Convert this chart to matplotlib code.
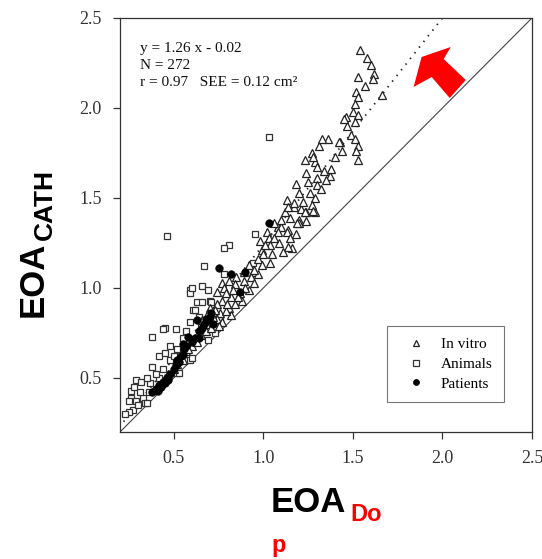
#!/usr/bin/env python3
"""Catheter vs Doppler effective orifice area, three data sources."""
import matplotlib
matplotlib.use("Agg")
import matplotlib.pyplot as plt
from matplotlib.patches import Polygon

W, H = 542, 559

# in vitro (triangles)
vitro_x = [1.54, 1.58, 1.60, 1.62, 1.61, 1.53, 1.57, 1.52, 1.53, 1.66, 1.51, 1.46, 1.50, 1.53, 1.51,
           1.47, 1.49, 1.51, 1.43, 1.45, 1.53, 1.53, 1.52,
           1.36, 1.31, 1.33, 1.42, 1.44, 1.40, 1.27, 1.23, 1.29, 1.30, 1.24, 1.34, 1.37, 1.38, 1.30,
           1.18, 1.25, 1.30, 1.20, 1.26, 1.29, 1.13, 1.17, 1.21, 1.24, 1.29, 1.12, 1.15, 1.20, 1.08,
           1.22, 1.27, 1.32, 1.35, 1.28,
           1.06, 1.10, 1.02, 1.08, 1.03, 1.14, 0.98, 1.04, 1.09, 1.16, 0.99, 1.05, 1.00, 0.97, 1.04,
           0.92, 0.99, 0.89, 0.94, 0.97, 0.93, 0.85, 0.89, 0.81, 0.95, 0.77, 0.84, 0.92, 0.78, 0.74,
           0.87, 0.82, 0.77, 0.88, 0.74, 0.81, 0.70, 0.84, 0.76, 0.82, 0.74, 0.77, 0.70, 0.66,
           1.28, 1.23, 1.24, 1.20, 1.14, 1.17, 1.14, 1.13, 1.19, 1.15, 1.11, 1.18,
           0.72, 0.68, 0.73, 0.79, 0.65, 0.62, 0.60, 0.57, 0.55, 0.52, 0.50, 0.47, 0.45, 0.42, 0.63,
           0.58, 0.68, 0.71, 0.75, 0.66, 0.69, 0.80, 0.86, 0.90, 0.95, 1.01, 1.06, 1.10, 0.79, 0.83]
vitro_y = [2.32, 2.28, 2.24, 2.19, 2.16, 2.17, 2.12, 2.09, 2.06, 2.07, 2.02, 1.95, 1.98, 1.96, 1.92,
           1.90, 1.85, 1.83, 1.81, 1.94, 1.79, 1.71, 1.76,
           1.83, 1.79, 1.83, 1.81, 1.76, 1.73, 1.75, 1.71, 1.70, 1.67, 1.64, 1.65, 1.62, 1.66, 1.61,
           1.58, 1.59, 1.57, 1.53, 1.53, 1.50, 1.49, 1.45, 1.44, 1.42, 1.42, 1.42, 1.39, 1.38, 1.34,
           1.48, 1.46, 1.55, 1.60, 1.73,
           1.36, 1.34, 1.31, 1.31, 1.28, 1.32, 1.26, 1.24, 1.25, 1.22, 1.21, 1.19, 1.19, 1.16, 1.14,
           1.13, 1.13, 1.09, 1.09, 1.08, 1.06, 1.06, 1.04, 1.04, 1.03, 1.03, 1.02, 0.99, 1.00, 0.98,
           0.97, 0.95, 0.93, 0.93, 0.91, 0.89, 0.89, 0.91, 0.86, 0.85, 0.83, 0.81, 0.81, 0.78,
           1.43, 1.42, 1.37, 1.36, 1.45, 1.47, 1.23, 1.31, 1.36, 1.28, 1.20, 1.30,
           0.84, 0.80, 0.88, 0.87, 0.74, 0.72, 0.68, 0.65, 0.60, 0.58, 0.55, 0.52, 0.50, 0.46, 0.70,
           0.66, 0.76, 0.78, 0.79, 0.82, 0.86, 0.91, 0.95, 1.00, 1.10, 1.24, 1.28, 1.38, 0.97, 0.99]

# animals (open squares)
animal_x = [0.46, 1.03, 0.955, 0.81, 0.78, 0.67, 0.66, 0.59, 0.59, 0.69, 0.63, 0.66, 0.70, 0.61, 0.45,
            0.44, 0.51, 0.38, 0.59, 0.48, 0.42, 0.45, 0.38, 0.59, 0.52, 0.29, 0.32, 0.26, 0.26, 0.29,
            0.25, 0.33, 0.34, 0.27, 0.25, 0.35, 0.53, 0.42, 0.37, 0.35, 0.60, 0.69, 0.94, 0.78, 0.60,
            0.62, 0.71, 0.55, 0.57, 0.64, 0.72, 0.52, 0.48, 0.40, 0.31, 0.28, 0.36, 0.44, 0.50, 0.65,
            0.73, 0.76, 0.30, 0.23]
animal_y = [1.29, 1.84, 1.30, 1.24, 1.22, 1.12, 1.01, 0.99, 0.97, 0.99, 0.92, 0.92, 0.93, 0.88, 0.78,
            0.77, 0.77, 0.73, 0.81, 0.68, 0.62, 0.64, 0.56, 0.60, 0.53, 0.49, 0.48, 0.43, 0.39, 0.37,
            0.37, 0.39, 0.36, 0.32, 0.31, 0.36, 0.53, 0.50, 0.47, 0.50, 0.61, 0.71, 1.14, 1.08, 1.00,
            0.88, 0.92, 0.72, 0.76, 0.84, 0.86, 0.66, 0.60, 0.52, 0.42, 0.45, 0.42, 0.55, 0.62, 0.79,
            0.75, 0.82, 0.35, 0.30]

# patients (filled circles)
patient_x = [0.38, 0.40, 0.41, 0.42, 0.43, 0.44, 0.45, 0.46, 0.47, 0.48, 0.50, 0.51, 0.52, 0.53, 0.54,
             0.55, 0.56, 0.57, 0.58, 0.60, 0.62, 0.64, 0.64, 0.66, 0.67, 0.68, 0.69, 0.70, 0.71, 0.72,
             0.75, 0.82, 0.87, 0.90, 1.03, 0.63, 0.55]
patient_y = [0.42, 0.44, 0.43, 0.46, 0.45, 0.48, 0.47, 0.50, 0.49, 0.52, 0.55, 0.57, 0.60, 0.59, 0.62,
             0.63, 0.66, 0.68, 0.73, 0.70, 0.72, 0.72, 0.76, 0.78, 0.80, 0.83, 0.82, 0.84, 0.86, 0.80,
             1.11, 1.08, 0.98, 1.09, 1.36, 0.82, 0.69]

# regression fit y = 1.26 x - 0.02
slope, intercept = 1.26, -0.02
fit_x = [0.22, (2.5 - intercept) / slope]
ticks = [0.5, 1.0, 1.5, 2.0, 2.5]
lims = (0.2, 2.5)

SERIF = "Liberation Serif"
SANS = "Liberation Sans"
TICK = "#333333"

fig = plt.figure(figsize=(W / 100, H / 100), dpi=100)
ax = fig.add_axes([120 / W, 1 - 432 / H, 412 / W, 414 / H])

ax.plot(lims, lims, color="#444444", lw=0.8, zorder=1)
ax.plot(fit_x, [slope * v + intercept for v in fit_x], color="#222222", lw=1.3,
        ls=(0, (0.8, 3.2)), zorder=1)

ax.plot(vitro_x, vitro_y, ls="none", marker="^", ms=5.2, mfc="white", mec="#222222",
        mew=0.9, label="In vitro", zorder=3)
ax.plot(animal_x, animal_y, ls="none", marker="s", ms=5.0, mfc="white", mec="#333333",
        mew=0.9, label="Animals", zorder=2)
ax.plot(patient_x, patient_y, ls="none", marker="o", ms=5.4, mfc="black", mec="black",
        mew=0.5, label="Patients", zorder=4)

ax.set_xlim(*lims)
ax.set_ylim(*lims)
ax.set_xticks(ticks)
ax.set_yticks(ticks)
ax.set_xticklabels([f"{t:.1f}" for t in ticks])
ax.set_yticklabels([f"{t:.1f}" for t in ticks])
ax.tick_params(direction="out", length=5, width=0.9, colors="#333333", labelsize=13,
               labelcolor=TICK, pad=8)
for lab in ax.get_xticklabels() + ax.get_yticklabels():
    lab.set_family(SERIF)
for s in ax.spines.values():
    s.set_linewidth(0.9)
    s.set_color("#333333")

fit_txt = "y = 1.26 x - 0.02\nN = 272\nr = 0.97   SEE = 0.12 cm\u00b2"
fig.text(140 / W, 1 - 42 / H, fit_txt, family=SERIF, fontsize=11, color="#111111",
         va="top", ha="left", linespacing=1.4)

leg = ax.legend(loc="upper left", bbox_to_anchor=(0.647, 0.256), prop={"family": SERIF, "size": 11},
                frameon=True, fancybox=False, edgecolor="#555555", markerscale=0.8,
                handlelength=2.3, handletextpad=0.5, borderpad=0.75, labelspacing=0.4,
                borderaxespad=0)
leg.get_frame().set_linewidth(0.8)

# red arrow pointing at the fit line
arrow = [(420, 57), (449, 47), (442, 59), (464, 80), (448, 98), (430, 77), (412, 87)]
arrow_pts = [(0.5 + (px - 173) / 178.5, 2.5 - (py - 18) / 180) for px, py in arrow]
ax.add_patch(Polygon(arrow_pts, closed=True, color="#ff0000", lw=0, zorder=5, clip_on=False))

# axis titles
fig.text(271 / W, 1 - 512 / H, "EOA", family=SANS, weight="bold", fontsize=25, color="black",
         ha="left", va="baseline")
fig.text(350 / W, 1 - 521 / H, "Do", family=SANS, weight="bold", fontsize=17, color="#ff0000",
         ha="left", va="baseline")
fig.text(271 / W, 1 - 552 / H, "p", family=SANS, weight="bold", fontsize=17, color="#ff0000",
         ha="left", va="baseline")
fig.text(43 / W, 1 - 317 / H, "EOA", family=SANS, weight="bold", fontsize=25, color="black",
         rotation=90, rotation_mode="anchor", ha="left", va="baseline")
fig.text(52 / W, 1 - 240 / H, "CATH", family=SANS, weight="bold", fontsize=19, color="black",
         rotation=90, rotation_mode="anchor", ha="left", va="baseline")

fig.savefig("out.png", dpi=100)
